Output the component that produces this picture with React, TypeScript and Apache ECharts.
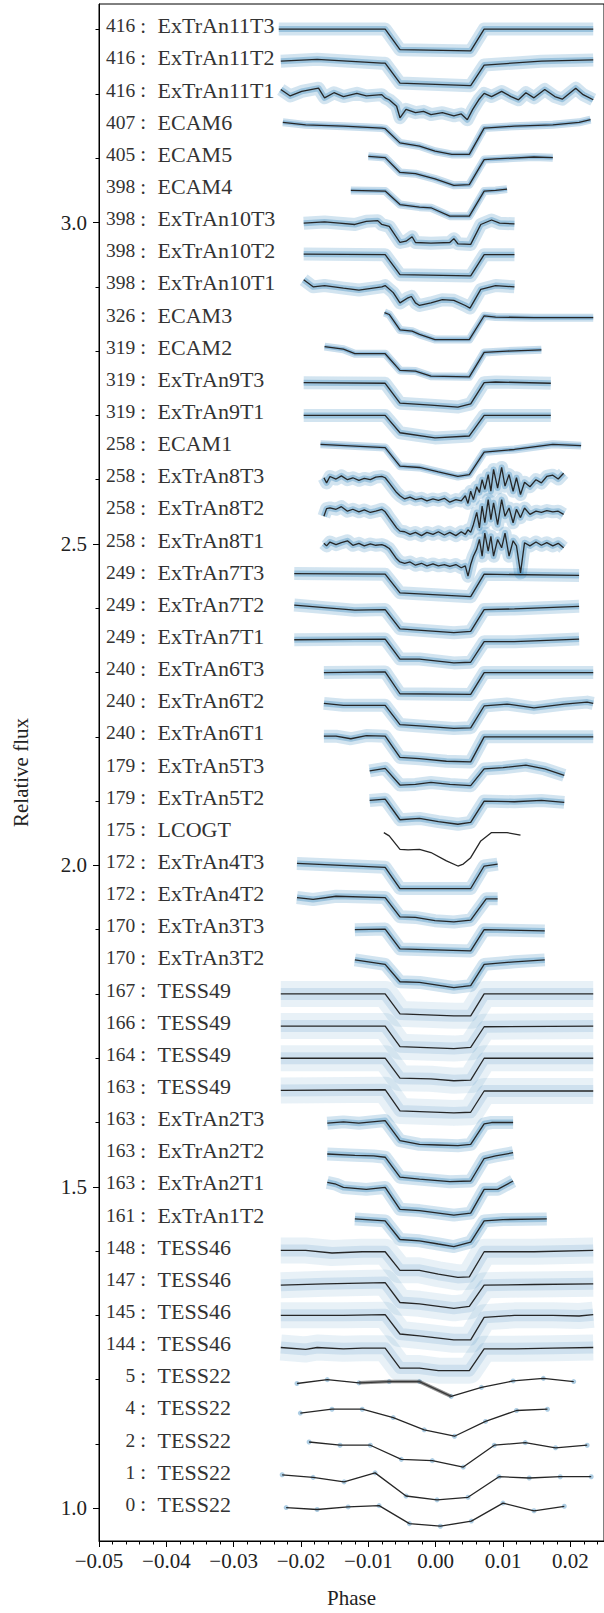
import { useEffect, useRef } from "react";
import * as echarts from "echarts";

// ---- labels (bottom to top) ----
const epochs = ["0","1","2","4","5","144","145","147","148","161","163","163","163","163","164","166","167","170","170","172","172","175","179","179","240","240","240","249","249","249","258","258","258","258","319","319","319","326","398","398","398","398","405","407","416","416","416"];
const instruments = ["TESS22","TESS22","TESS22","TESS22","TESS22","TESS46","TESS46","TESS46","TESS46","ExTrAn1T2","ExTrAn2T1","ExTrAn2T2","ExTrAn2T3","TESS49","TESS49","TESS49","TESS49","ExTrAn3T2","ExTrAn3T3","ExTrAn4T2","ExTrAn4T3","LCOGT","ExTrAn5T2","ExTrAn5T3","ExTrAn6T1","ExTrAn6T2","ExTrAn6T3","ExTrAn7T1","ExTrAn7T2","ExTrAn7T3","ExTrAn8T1","ExTrAn8T2","ExTrAn8T3","ECAM1","ExTrAn9T1","ExTrAn9T3","ECAM2","ECAM3","ExTrAn10T1","ExTrAn10T2","ExTrAn10T3","ECAM4","ECAM5","ECAM6","ExTrAn11T1","ExTrAn11T2","ExTrAn11T3"];

// ---- light curves: [phase, relative flux] ----
const c0 = [[-0.0222,1.001],[-0.0176,0.998],[-0.0130,1.002],[-0.0084,1.004],[-0.0039,0.976],[0.0007,0.972],[0.0053,0.980],[0.0100,1.008],[0.0146,0.996],[0.0191,1.003]];
const c1 = [[-0.0228,1.002],[-0.0182,0.998],[-0.0136,0.991],[-0.0090,1.005],[-0.0044,0.969],[0.0002,0.963],[0.0048,0.967],[0.0094,0.999],[0.0139,0.997],[0.0185,0.999],[0.0231,0.999]];
const c2 = [[-0.0188,1.003],[-0.0142,0.998],[-0.0097,0.998],[-0.0051,0.976],[-0.0005,0.974],[0.0041,0.964],[0.0087,0.998],[0.0133,1.002],[0.0178,0.994],[0.0225,0.998]];
const c3 = [[-0.0201,0.998],[-0.0154,1.004],[-0.0109,1.004],[-0.0063,0.991],[-0.0017,0.972],[0.0028,0.962],[0.0074,0.985],[0.0120,1.002],[0.0166,1.004]];
const c4 = [[-0.0206,0.994],[-0.0161,1.000],[-0.0114,0.995],[-0.0069,0.997],[-0.0024,0.997],[0.0023,0.974],[0.0068,0.988],[0.0115,0.998],[0.0160,1.002],[0.0205,0.997]];
// model-uncertainty stretch drawn thicker on epoch 5
const c4Spread = [[-0.0114,0.995],[-0.0069,0.997],[-0.0024,0.997],[0.0023,0.974]];
const c5 = [[-0.0230,1.000],[-0.0193,0.997],[-0.0176,1.000],[-0.0137,0.998],[-0.0109,0.999],[-0.0075,0.999],[-0.0053,0.968],[-0.0024,0.968],[0.0004,0.964],[0.0050,0.964],[0.0072,0.998],[0.0117,0.998],[0.0174,0.999],[0.0234,1.000]];
const c6 = [[-0.0230,1.000],[-0.0137,1.000],[-0.0075,1.001],[-0.0053,0.971],[-0.0024,0.968],[0.0027,0.962],[0.0052,0.962],[0.0072,0.997],[0.0117,1.000],[0.0174,1.000],[0.0213,0.999],[0.0234,1.001]];
const c7 = [[-0.0230,0.997],[-0.0165,0.999],[-0.0075,1.001],[-0.0053,0.970],[-0.0024,0.968],[0.0027,0.961],[0.0050,0.964],[0.0072,0.997],[0.0146,0.998],[0.0234,0.999]];
const c8 = [[-0.0230,1.001],[-0.0193,1.001],[-0.0154,0.997],[-0.0109,0.999],[-0.0075,0.999],[-0.0053,0.970],[-0.0024,0.970],[0.0004,0.964],[0.0033,0.959],[0.0050,0.960],[0.0072,0.999],[0.0146,0.999],[0.0234,1.001]];
const c9 = [[-0.0120,1.000],[-0.0075,0.997],[-0.0053,0.968],[-0.0024,0.966],[0.0004,0.961],[0.0027,0.957],[0.0052,0.964],[0.0072,0.997],[0.0100,0.999],[0.0165,1.000]];
const c10 = [[-0.0161,1.007],[-0.0148,1.004],[-0.0137,0.999],[-0.0103,0.996],[-0.0075,0.999],[-0.0053,0.965],[-0.0024,0.963],[0.0027,0.956],[0.0052,0.959],[0.0072,0.996],[0.0092,0.996],[0.0115,1.009]];
const c11 = [[-0.0161,1.001],[-0.0120,0.999],[-0.0092,0.998],[-0.0075,0.996],[-0.0053,0.965],[-0.0024,0.962],[0.0021,0.958],[0.0052,0.959],[0.0072,0.994],[0.0089,0.998],[0.0115,1.003]];
const c12 = [[-0.0161,0.999],[-0.0137,1.001],[-0.0114,0.999],[-0.0075,1.003],[-0.0053,0.972],[-0.0024,0.966],[0.0004,0.965],[0.0033,0.964],[0.0052,0.966],[0.0072,0.998],[0.0083,1.000],[0.0115,1.000]];
const c13 = [[-0.0230,1.000],[-0.0075,1.001],[-0.0053,0.968],[0.0027,0.965],[0.0052,0.966],[0.0072,0.999],[0.0234,0.999]];
const c14 = [[-0.0230,1.000],[-0.0075,1.000],[-0.0053,0.969],[-0.0007,0.968],[0.0027,0.965],[0.0052,0.966],[0.0072,1.000],[0.0234,1.000]];
const c15 = [[-0.0230,1.000],[-0.0075,1.000],[-0.0053,0.968],[0.0027,0.965],[0.0052,0.967],[0.0072,0.999],[0.0234,1.000]];
const c16 = [[-0.0230,1.000],[-0.0075,1.000],[-0.0053,0.969],[0.0027,0.966],[0.0052,0.966],[0.0072,1.000],[0.0234,1.000]];
const c17 = [[-0.0120,1.003],[-0.0075,0.996],[-0.0053,0.969],[-0.0024,0.968],[0.0027,0.960],[0.0052,0.963],[0.0072,0.996],[0.0117,1.000],[0.0162,1.003]];
const c18 = [[-0.0120,1.000],[-0.0075,1.001],[-0.0053,0.970],[0.0052,0.967],[0.0072,1.000],[0.0162,0.998]];
const c19 = [[-0.0206,1.000],[-0.0182,0.997],[-0.0148,1.002],[-0.0075,1.000],[-0.0053,0.970],[-0.0030,0.969],[-0.0001,0.964],[0.0027,0.962],[0.0052,0.965],[0.0075,0.998],[0.0092,0.998]];
const c20 = [[-0.0206,1.003],[-0.0075,0.997],[-0.0053,0.964],[0.0052,0.964],[0.0072,0.999],[0.0092,1.002]];
const c21 = [[-0.0077,1.001],[-0.0069,0.996],[-0.0053,0.975],[-0.0041,0.974],[-0.0024,0.975],[-0.0007,0.970],[0.0016,0.957],[0.0033,0.949],[0.0041,0.952],[0.0052,0.962],[0.0067,0.988],[0.0083,1.001],[0.0106,1.001],[0.0126,0.997]];
const c22 = [[-0.0098,1.001],[-0.0075,1.003],[-0.0053,0.971],[-0.0024,0.973],[0.0004,0.968],[0.0033,0.964],[0.0052,0.967],[0.0072,1.000],[0.0117,0.999],[0.0157,1.001],[0.0191,0.998]];
const c23 = [[-0.0098,0.997],[-0.0075,1.001],[-0.0053,0.975],[-0.0030,0.976],[-0.0007,0.979],[0.0021,0.976],[0.0052,0.974],[0.0072,1.000],[0.0100,1.002],[0.0134,1.006],[0.0162,1.000],[0.0191,0.990]];
const c24 = [[-0.0166,1.001],[-0.0148,1.001],[-0.0126,0.997],[-0.0103,1.002],[-0.0075,1.001],[-0.0053,0.968],[-0.0024,0.966],[0.0016,0.962],[0.0052,0.961],[0.0072,1.000],[0.0234,1.000]];
const c25 = [[-0.0166,1.002],[-0.0137,0.999],[-0.0075,0.999],[-0.0053,0.969],[-0.0024,0.967],[0.0027,0.963],[0.0052,0.964],[0.0072,0.998],[0.0106,1.001],[0.0146,0.995],[0.0191,1.001],[0.0225,1.004],[0.0234,1.002]];
const c26 = [[-0.0166,1.000],[-0.0075,1.001],[-0.0053,0.967],[0.0052,0.966],[0.0072,1.000],[0.0234,1.000]];
const c27 = [[-0.0210,1.001],[-0.0075,1.002],[-0.0053,0.971],[-0.0024,0.971],[0.0027,0.965],[0.0052,0.966],[0.0072,0.998],[0.0117,0.998],[0.0213,1.002]];
const c28 = [[-0.0210,1.005],[-0.0165,1.001],[-0.0120,0.997],[-0.0075,0.998],[-0.0053,0.968],[0.0027,0.962],[0.0052,0.964],[0.0072,0.998],[0.0117,0.999],[0.0213,1.003]];
const c29 = [[-0.0210,1.004],[-0.0075,1.003],[-0.0053,0.974],[0.0052,0.968],[0.0072,1.003],[0.0213,1.001]];
// ExTrAn8 nights share one time grid
const ph8 = [-0.0166,-0.0162,-0.0157,-0.0148,-0.0140,-0.0131,-0.0123,-0.0114,-0.0106,-0.0097,-0.0089,-0.0080,-0.0075,-0.0069,-0.0058,-0.0053,-0.0046,-0.0038,-0.0030,-0.0021,-0.0013,-0.0004,0.0004,0.0013,0.0021,0.0030,0.0038,0.0044,0.0048,0.0052,0.0056,0.0061,0.0065,0.0069,0.0073,0.0078,0.0082,0.0086,0.0092,0.0098,0.0103,0.0109,0.0115,0.0120,0.0126,0.0132,0.0140,0.0149,0.0157,0.0165,0.0174,0.0182,0.0190];
const f8T1 = [1.001,0.997,1.003,0.999,1.002,1.005,0.998,1.001,0.997,1.000,0.998,0.999,0.997,0.993,0.977,0.972,0.970,0.972,0.967,0.970,0.966,0.969,0.966,0.968,0.965,0.968,0.963,0.966,0.950,0.968,0.981,0.992,1.007,0.981,1.017,0.989,1.012,0.981,1.007,0.994,1.017,0.981,1.005,0.997,0.955,1.002,0.997,1.003,0.998,1.002,0.997,1.001,0.994];
const f8T2 = [0.993,1.005,1.006,1.004,1.008,1.001,1.004,1.000,1.003,0.999,1.001,1.004,1.000,0.991,0.975,0.970,0.969,0.965,0.968,0.963,0.968,0.965,0.969,0.964,0.968,0.963,0.969,0.965,0.972,0.968,0.980,0.999,0.975,1.009,0.983,1.019,0.988,1.014,0.980,1.019,0.993,1.006,0.983,1.004,0.991,1.006,0.996,1.001,0.999,1.002,1.000,1.001,0.996];
const f8T3 = [1.003,0.995,1.005,1.001,1.006,1.000,1.003,0.999,1.002,1.000,1.004,1.005,1.003,0.995,0.980,0.975,0.970,0.973,0.969,0.971,0.967,0.970,0.968,0.971,0.965,0.969,0.967,0.975,0.963,0.982,0.969,0.989,0.980,1.000,0.985,1.008,0.982,1.016,0.987,1.019,0.990,1.008,0.982,1.003,0.977,0.996,0.989,1.000,0.995,1.005,1.007,1.001,1.010];
const c30 = ph8.map((p, k) => [p, f8T1[k]]);
const c31 = ph8.map((p, k) => [p, f8T2[k]]);
const c32 = ph8.map((p, k) => [p, f8T3[k]]);
const c33 = [[-0.0171,1.005],[-0.0075,1.000],[-0.0053,0.971],[-0.0024,0.969],[0.0004,0.962],[0.0033,0.955],[0.0050,0.958],[0.0072,0.993],[0.0117,0.997],[0.0174,1.005],[0.0216,1.003]];
const c34 = [[-0.0196,1.000],[-0.0075,1.000],[-0.0053,0.973],[-0.0001,0.965],[0.0050,0.968],[0.0072,1.000],[0.0171,1.000]];
const c35 = [[-0.0196,1.001],[-0.0075,1.000],[-0.0053,0.969],[-0.0007,0.966],[0.0033,0.963],[0.0052,0.968],[0.0072,1.001],[0.0089,1.002],[0.0171,1.000]];
const c36 = [[-0.0165,1.007],[-0.0137,1.003],[-0.0120,0.996],[-0.0075,0.996],[-0.0053,0.970],[-0.0030,0.969],[-0.0007,0.961],[0.0050,0.960],[0.0072,0.998],[0.0106,1.000],[0.0157,1.002]];
const c37 = [[-0.0076,1.010],[-0.0069,1.007],[-0.0053,0.983],[-0.0035,0.981],[-0.0024,0.976],[-0.0001,0.968],[0.0050,0.968],[0.0072,1.005],[0.0089,1.003],[0.0146,1.002],[0.0234,1.002]];
const c38 = [[-0.0196,1.011],[-0.0182,1.000],[-0.0165,1.002],[-0.0137,0.998],[-0.0114,0.995],[-0.0080,1.000],[-0.0075,1.002],[-0.0063,0.991],[-0.0053,0.975],[-0.0041,0.983],[-0.0036,0.985],[-0.0030,0.975],[-0.0024,0.971],[-0.0007,0.975],[0.0010,0.980],[0.0027,0.979],[0.0044,0.971],[0.0051,0.967],[0.0067,0.996],[0.0089,1.002],[0.0117,1.000]];
const c39 = [[-0.0196,1.001],[-0.0075,1.000],[-0.0053,0.969],[0.0052,0.967],[0.0072,1.000],[0.0117,1.000]];
const c40 = [[-0.0196,0.999],[-0.0165,1.001],[-0.0143,0.999],[-0.0120,0.997],[-0.0103,1.002],[-0.0086,1.003],[-0.0080,0.997],[-0.0069,0.994],[-0.0053,0.969],[-0.0044,0.971],[-0.0035,0.978],[-0.0030,0.969],[-0.0007,0.968],[0.0021,0.969],[0.0027,0.975],[0.0033,0.967],[0.0052,0.966],[0.0067,0.997],[0.0083,1.004],[0.0095,0.999],[0.0117,0.998]];
const c41 = [[-0.0126,1.000],[-0.0075,0.999],[-0.0053,0.978],[-0.0024,0.974],[-0.0007,0.973],[0.0021,0.960],[0.0050,0.960],[0.0072,0.999],[0.0089,1.000],[0.0106,1.002]];
const c42 = [[-0.0100,1.003],[-0.0075,1.001],[-0.0053,0.978],[-0.0030,0.976],[-0.0001,0.968],[0.0027,0.958],[0.0050,0.959],[0.0072,0.998],[0.0089,0.999],[0.0146,1.002],[0.0174,1.001]];
const c43 = [[-0.0227,1.006],[-0.0193,1.002],[-0.0137,1.000],[-0.0080,0.997],[-0.0075,0.996],[-0.0053,0.974],[-0.0024,0.969],[-0.0001,0.961],[0.0024,0.956],[0.0050,0.956],[0.0072,0.997],[0.0117,1.000],[0.0174,1.002],[0.0213,1.006],[0.0230,1.010]];
const ph11T1 = [-0.0230,-0.0216,-0.0199,-0.0174,-0.0165,-0.0151,-0.0137,-0.0117,-0.0103,-0.0080,-0.0075,-0.0069,-0.0058,-0.0053,-0.0044,-0.0030,-0.0018,-0.0007,0.0010,0.0027,0.0038,0.0047,0.0055,0.0064,0.0072,0.0083,0.0098,0.0112,0.0123,0.0134,0.0146,0.0162,0.0177,0.0188,0.0208,0.0219,0.0234];
const f11T1 = [1.007,0.997,1.004,1.009,0.994,1.002,0.996,1.001,0.997,0.999,0.994,0.991,0.981,0.963,0.976,0.971,0.973,0.968,0.971,0.966,0.969,0.960,0.976,0.991,1.001,0.996,1.004,0.996,0.991,1.002,0.994,1.007,0.996,0.992,1.009,0.999,0.991];
const c44 = ph11T1.map((p, k) => [p, f11T1[k]]);
const c45 = [[-0.0230,1.001],[-0.0176,1.004],[-0.0080,0.998],[-0.0075,0.998],[-0.0053,0.967],[0.0052,0.963],[0.0072,0.995],[0.0157,1.001],[0.0234,1.003]];
const c46 = [[-0.0233,1.001],[-0.0075,1.001],[-0.0053,0.969],[0.0052,0.967],[0.0072,1.001],[0.0234,1.001]];

const curves = [c0,c1,c2,c3,c4,c5,c6,c7,c8,c9,c10,c11,c12,c13,c14,c15,c16,c17,c18,c19,c20,c21,c22,c23,c24,c25,c26,c27,c28,c29,c30,c31,c32,c33,c34,c35,c36,c37,c38,c39,c40,c41,c42,c43,c44,c45,c46];

const xMajor = [-0.05,-0.04,-0.03,-0.02,-0.01,0.0,0.01,0.02];
const yMajor = [1.0,1.5,2.0,2.5,3.0];

const OFFSET = 0.05;
const FAMILY = "Liberation Serif, serif";

const bands: Record<string, { w: number; a: number }[]> = {
  ex: [{ w: 13, a: 0.2 }, { w: 6, a: 0.3 }],
  ecam: [{ w: 8, a: 0.24 }, { w: 4, a: 0.32 }],
  tess: [{ w: 26, a: 0.1 }, { w: 12, a: 0.13 }],
};

export default function App() {
  const ref = useRef<HTMLDivElement>(null);
  useEffect(() => {
    const chart = echarts.init(ref.current!, null, { renderer: "svg" });
    const series: any[] = [];
    const shift = (c: number[][], i: number) => c.map(([p, f]) => [p, +(f + OFFSET * i).toFixed(4)]);
    curves.forEach((c, i) => {
      const inst = instruments[i];
      const d = shift(c, i);
      const kind = inst.startsWith("ExTrAn") ? "ex" : inst.startsWith("ECAM") ? "ecam" : inst === "TESS22" ? "pts" : inst === "LCOGT" ? "none" : "tess";
      (bands[kind] || []).forEach((b) =>
        series.push({
          type: "line", data: d, symbol: "none", silent: true, z: 1,
          lineStyle: { width: b.w, color: `rgba(31,119,180,${b.a})`, cap: "butt", join: "round" },
        })
      );
      if (kind === "pts") {
        series.push({ type: "scatter", data: d, symbolSize: 5, silent: true, z: 2, itemStyle: { color: "rgba(31,119,180,0.45)" } });
      }
      series.push({
        type: "line", data: d, symbol: "none", silent: true, z: 3,
        lineStyle: { width: 1.3, color: "#262626" },
      });
    });
    series.push({
      type: "line", data: shift(c4Spread, 4), symbol: "none", silent: true, z: 3,
      lineStyle: { width: 3.5, color: "rgba(70,70,70,0.6)", join: "round" },
    });

    series.push({
      type: "custom",
      silent: true,
      z: 10,
      clip: false,
      data: epochs.map((_, i) => [0, 1 + OFFSET * i, i]),
      renderItem: (_p: any, api: any) => {
        const i = api.value(2);
        const y = api.value(1) + 0.006;
        const a = api.coord([-0.0446, y]);
        const b = api.coord([-0.04345, y]);
        const c = api.coord([-0.0413, y]);
        const st = { fontFamily: FAMILY, fill: "#333", verticalAlign: "middle" };
        return {
          type: "group",
          children: [
            { type: "text", x: a[0], y: a[1], style: { ...st, fontSize: 19.5, text: epochs[i], align: "right" } },
            { type: "text", x: b[0], y: b[1], style: { ...st, fontSize: 21, text: ":", align: "center" } },
            { type: "text", x: c[0], y: c[1], style: { ...st, fontSize: 22, text: instruments[i], align: "left" } },
          ],
        };
      },
    });

    const xMinor: number[] = [];
    for (let k = -24; k <= 12; k++) if (k % 5 !== 0) xMinor.push(+(k * 0.002).toFixed(3));
    const yMinor: number[] = [];
    for (let k = 10; k <= 33; k++) if (k % 5 !== 0) yMinor.push(+(k * 0.1).toFixed(1));

    const tickLbl = { color: "#222", fontFamily: FAMILY, fontSize: 21 };
    chart.setOption({
      animation: false,
      grid: { left: 99, top: 4, width: 512, height: 1539, show: true, borderColor: "#000", borderWidth: 1, backgroundColor: "transparent" },
      xAxis: [
        {
          type: "value", min: -0.05, max: 0.025, position: "bottom",
          name: "Phase", nameLocation: "middle", nameGap: 46,
          nameTextStyle: { color: "#222", fontFamily: FAMILY, fontSize: 21 },
          axisLine: { show: true, onZero: false, lineStyle: { color: "#000", width: 1 } },
          axisTick: { show: true, length: 6, customValues: xMajor, lineStyle: { color: "#000", width: 1 } },
          axisLabel: { show: true, margin: 9, customValues: xMajor, ...tickLbl, formatter: (v: number) => (v < -1e-9 ? "\u2212" : "") + Math.abs(v).toFixed(2) },
          splitLine: { show: false },
        },
        {
          type: "value", min: -0.05, max: 0.025, position: "bottom",
          axisLine: { show: false, onZero: false },
          axisTick: { show: true, length: 3.5, customValues: xMinor, lineStyle: { color: "#000", width: 1 } },
          axisLabel: { show: false },
          splitLine: { show: false },
        },
      ],
      yAxis: [
        {
          type: "value", min: 0.949, max: 3.34, position: "left",
          name: "Relative flux", nameLocation: "middle", nameGap: 68,
          nameTextStyle: { color: "#222", fontFamily: FAMILY, fontSize: 21 },
          axisLine: { show: true, onZero: false, lineStyle: { color: "#000", width: 1 } },
          axisTick: { show: true, length: 6, customValues: yMajor, lineStyle: { color: "#000", width: 1 } },
          axisLabel: { show: true, margin: 12, customValues: yMajor, ...tickLbl, formatter: (v: number) => v.toFixed(1) },
          splitLine: { show: false },
        },
        {
          type: "value", min: 0.949, max: 3.34, position: "left",
          axisLine: { show: false, onZero: false },
          axisTick: { show: true, length: 3.5, customValues: yMinor, lineStyle: { color: "#000", width: 1 } },
          axisLabel: { show: false },
          splitLine: { show: false },
        },
      ],
      series,
    });
    return () => chart.dispose();
  }, []);
  return <div ref={ref} style={{ position: "absolute", left: 0, top: 0, width: 604, height: 1613, background: "#fff" }} />;
}
